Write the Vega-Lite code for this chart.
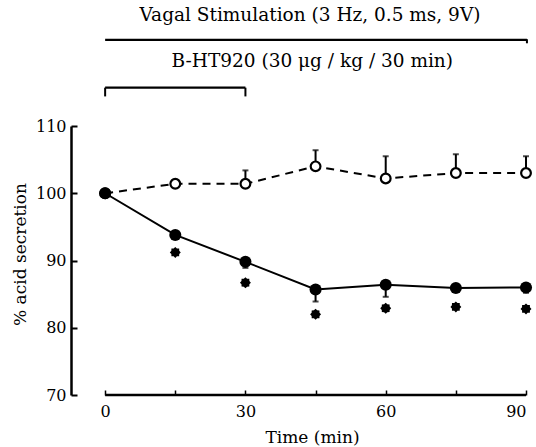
{
  "$schema": "https://vega.github.io/schema/vega-lite/v6.json",
  "width": 455,
  "height": 269,
  "autosize": {"type": "none"},
  "padding": {"left": 71, "top": 126, "right": 10, "bottom": 52},
  "background": "white",
  "config": {
    "view": {"stroke": null},
    "font": "DejaVu Serif",
    "axis": {"grid": false, "labelColor": "black", "titleColor": "black", "tickColor": "black", "domainColor": "black", "labelFont": "DejaVu Serif", "titleFont": "DejaVu Serif", "titleFontWeight": "normal"}
  },
  "datasets": {
    "axisline": [{"t": 0, "t2": 90, "v": 70}],
    "hlines": [{"t": 0, "t2": 90.2, "v": 122.8}, {"t": 0, "t2": 30, "v": 115.7}],
    "vticks": [{"t": 0, "v": 115.7, "v2": 114.4}, {"t": 30, "v": 115.7, "v2": 114.4}, {"t": 90.2, "v": 122.9, "v2": 122.3}],
    "labels": [
      {"t": 43.8, "v": 125.6, "label": "Vagal Stimulation (3 Hz, 0.5 ms, 9V)"},
      {"t": 44.3, "v": 118.8, "label": "B-HT920 (30 μg / kg / 30 min)"}
    ],
    "control": [
      {"t": 0, "v": 100},
      {"t": 15, "v": 101.4},
      {"t": 30, "v": 101.4, "err": 103.4},
      {"t": 45, "v": 104.0, "err": 106.4},
      {"t": 60, "v": 102.2, "err": 105.5},
      {"t": 75, "v": 103.0, "err": 105.8},
      {"t": 90, "v": 103.0, "err": 105.5}
    ],
    "treated": [
      {"t": 0, "v": 100},
      {"t": 15, "v": 93.8},
      {"t": 30, "v": 89.8, "err": 88.9},
      {"t": 45, "v": 85.7, "err": 83.9},
      {"t": 60, "v": 86.4, "err": 84.6},
      {"t": 75, "v": 85.9},
      {"t": 90, "v": 86.0, "err": 85.2}
    ],
    "stars": [
      {"t": 15, "v": 91.2},
      {"t": 30, "v": 86.7},
      {"t": 45, "v": 82.0},
      {"t": 60, "v": 82.9},
      {"t": 75, "v": 83.1},
      {"t": 90, "v": 82.8}
    ]
  },
  "layer": [
    {
      "data": {"name": "axisline"},
      "mark": {"type": "rule", "strokeWidth": 2.5, "color": "black"},
      "encoding": {
        "x": {
          "field": "t", "type": "quantitative",
          "scale": {"domain": [-7.3, 90], "nice": false, "zero": false},
          "axis": {
            "values": [0, 15, 30, 45, 60, 75, 90], "domain": false, "tickSize": -5, "tickWidth": 1.5,
            "labelExpr": "datum.value % 30 === 0 ? datum.label : ''",
            "labelFontSize": 16, "labelPadding": 13,
            "title": "Time (min)", "titleFontSize": 17, "titleX": 241, "titleY": 47, "titleBaseline": "alphabetic"
          }
        },
        "x2": {"field": "t2"},
        "y": {
          "field": "v", "type": "quantitative",
          "scale": {"domain": [70, 110], "nice": false, "zero": false},
          "axis": {
            "values": [70, 80, 90, 100, 110], "tickSize": -6, "tickWidth": 2, "domainWidth": 2.5,
            "labelFontSize": 16, "labelPadding": 11,
            "title": "% acid secretion", "titleFontSize": 17, "titleX": -46, "titleY": 128, "titleBaseline": "alphabetic"
          }
        }
      }
    },
    {
      "data": {"name": "hlines"},
      "mark": {"type": "rule", "strokeWidth": 2.2, "color": "black"},
      "encoding": {"x": {"field": "t", "type": "quantitative"}, "x2": {"field": "t2"}, "y": {"field": "v", "type": "quantitative"}}
    },
    {
      "data": {"name": "vticks"},
      "mark": {"type": "rule", "strokeWidth": 2, "color": "black"},
      "encoding": {"x": {"field": "t", "type": "quantitative"}, "y": {"field": "v", "type": "quantitative"}, "y2": {"field": "v2"}}
    },
    {
      "data": {"name": "labels"},
      "mark": {"type": "text", "fontSize": 18.5, "font": "DejaVu Serif", "color": "black", "align": "center", "baseline": "alphabetic"},
      "encoding": {"x": {"field": "t", "type": "quantitative"}, "y": {"field": "v", "type": "quantitative"}, "text": {"field": "label"}}
    },
    {
      "data": {"name": "control"},
      "mark": {"type": "line", "strokeWidth": 2, "strokeDash": [8, 6], "color": "black"},
      "encoding": {"x": {"field": "t", "type": "quantitative"}, "y": {"field": "v", "type": "quantitative"}}
    },
    {
      "data": {"name": "treated"},
      "mark": {"type": "line", "strokeWidth": 2, "color": "black"},
      "encoding": {"x": {"field": "t", "type": "quantitative"}, "y": {"field": "v", "type": "quantitative"}}
    },
    {
      "data": {"name": "control"},
      "transform": [{"filter": "isValid(datum.err)"}],
      "mark": {"type": "rule", "strokeWidth": 2, "color": "black"},
      "encoding": {"x": {"field": "t", "type": "quantitative"}, "y": {"field": "v", "type": "quantitative"}, "y2": {"field": "err"}}
    },
    {
      "data": {"name": "control"},
      "transform": [{"filter": "isValid(datum.err)"}],
      "mark": {"type": "tick", "orient": "horizontal", "size": 6, "thickness": 2, "color": "black"},
      "encoding": {"x": {"field": "t", "type": "quantitative"}, "y": {"field": "err", "type": "quantitative"}}
    },
    {
      "data": {"name": "treated"},
      "transform": [{"filter": "isValid(datum.err)"}],
      "mark": {"type": "rule", "strokeWidth": 2, "color": "black"},
      "encoding": {"x": {"field": "t", "type": "quantitative"}, "y": {"field": "v", "type": "quantitative"}, "y2": {"field": "err"}}
    },
    {
      "data": {"name": "treated"},
      "transform": [{"filter": "isValid(datum.err)"}],
      "mark": {"type": "tick", "orient": "horizontal", "size": 6, "thickness": 2, "color": "black"},
      "encoding": {"x": {"field": "t", "type": "quantitative"}, "y": {"field": "err", "type": "quantitative"}}
    },
    {
      "data": {"name": "control"},
      "mark": {"type": "point", "shape": "circle", "size": 95, "filled": false, "fill": "white", "fillOpacity": 1, "stroke": "black", "strokeWidth": 2.2, "opacity": 1},
      "encoding": {"x": {"field": "t", "type": "quantitative"}, "y": {"field": "v", "type": "quantitative"}}
    },
    {
      "data": {"name": "treated"},
      "mark": {"type": "point", "shape": "circle", "size": 145, "filled": true, "color": "black", "opacity": 1},
      "encoding": {"x": {"field": "t", "type": "quantitative"}, "y": {"field": "v", "type": "quantitative"}}
    },
    {
      "data": {"name": "stars"},
      "mark": {"type": "point", "shape": "M0,-1L0.3,-0.72L0.707,-0.707L0.72,-0.3L1,0L0.72,0.3L0.707,0.707L0.3,0.72L0,1L-0.3,0.72L-0.707,0.707L-0.72,0.3L-1,0L-0.72,-0.3L-0.707,-0.707L-0.3,-0.72Z", "size": 120, "filled": true, "color": "black", "opacity": 1},
      "encoding": {"x": {"field": "t", "type": "quantitative"}, "y": {"field": "v", "type": "quantitative"}}
    }
  ]
}
